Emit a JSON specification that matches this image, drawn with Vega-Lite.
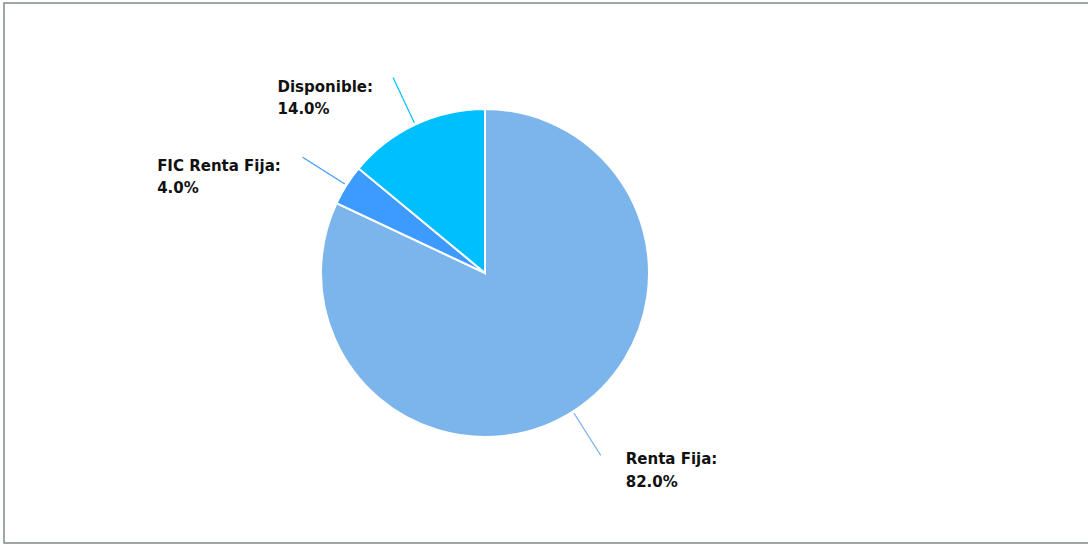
{
  "$schema": "https://vega.github.io/schema/vega-lite/v6.json",
  "width": 1088,
  "height": 545,
  "autosize": {"type": "fit", "contains": "padding"},
  "padding": {"left": 4, "top": 3, "right": -4, "bottom": 2},
  "background": "white",
  "view": {"stroke": "#7d8a8a", "strokeWidth": 1.5},
  "data": {
    "values": [
      {"rank": 1, "name": "Renta Fija", "share": 0.82},
      {"rank": 2, "name": "FIC Renta Fija", "share": 0.04},
      {"rank": 3, "name": "Disponible", "share": 0.14}
    ]
  },
  "transform": [
    {"window": [{"op": "sum", "field": "share", "as": "cum"}], "sort": [{"field": "rank"}], "frame": [null, 0]},
    {"calculate": "datum.cum - datum.share / 2", "as": "mid"},
    {"calculate": "datum.name + ':'", "as": "label"}
  ],
  "layer": [
    {
      "mark": {"type": "arc", "stroke": "white", "strokeWidth": 2, "xOffset": -63},
      "encoding": {
        "theta": {"field": "share", "type": "quantitative", "stack": true, "scale": {"domain": [0, 1]}},
        "order": {"field": "rank"},
        "color": {"field": "name", "type": "nominal", "scale": {"domain": ["Renta Fija", "FIC Renta Fija", "Disponible"], "range": ["#7cb5ec", "#3d9bff", "#00bfff"]}, "legend": null},
        "radius": {"value": 164}
      }
    },
    {
      "mark": {"type": "arc", "filled": false, "strokeWidth": 1.2, "xOffset": -63},
      "encoding": {
        "theta": {"field": "mid", "type": "quantitative", "stack": null, "scale": {"domain": [0, 1]}},
        "theta2": {"field": "mid"},
        "color": {"field": "name", "type": "nominal", "legend": null},
        "radius": {"value": 216},
        "radius2": {"value": 166}
      }
    },
    {
      "mark": {"type": "text", "fontWeight": "bold", "fontSize": 15, "font": "DejaVu Sans", "color": "#111111", "baseline": "middle", "align": "left",
        "dx": {"expr": "datum.mid < 0.5 ? 25 : -33 - length(datum.label) * 7.5"},
        "dy": {"expr": "datum.mid > 0.8 ? 9 : 4"}, "xOffset": -63},
      "encoding": {
        "theta": {"field": "mid", "type": "quantitative", "stack": null, "scale": {"domain": [0, 1]}},
        "radius": {"value": 216},
        "text": {"field": "label"}
      }
    },
    {
      "mark": {"type": "text", "fontWeight": "bold", "fontSize": 15, "font": "DejaVu Sans", "color": "#111111", "baseline": "middle", "align": "left",
        "dx": {"expr": "datum.mid < 0.5 ? 25 : -33 - length(datum.label) * 7.5"},
        "dy": {"expr": "datum.mid > 0.8 ? 31 : 27"}, "xOffset": -63},
      "encoding": {
        "theta": {"field": "mid", "type": "quantitative", "stack": null, "scale": {"domain": [0, 1]}},
        "radius": {"value": 216},
        "text": {"field": "share", "format": ".1%"}
      }
    }
  ]
}
